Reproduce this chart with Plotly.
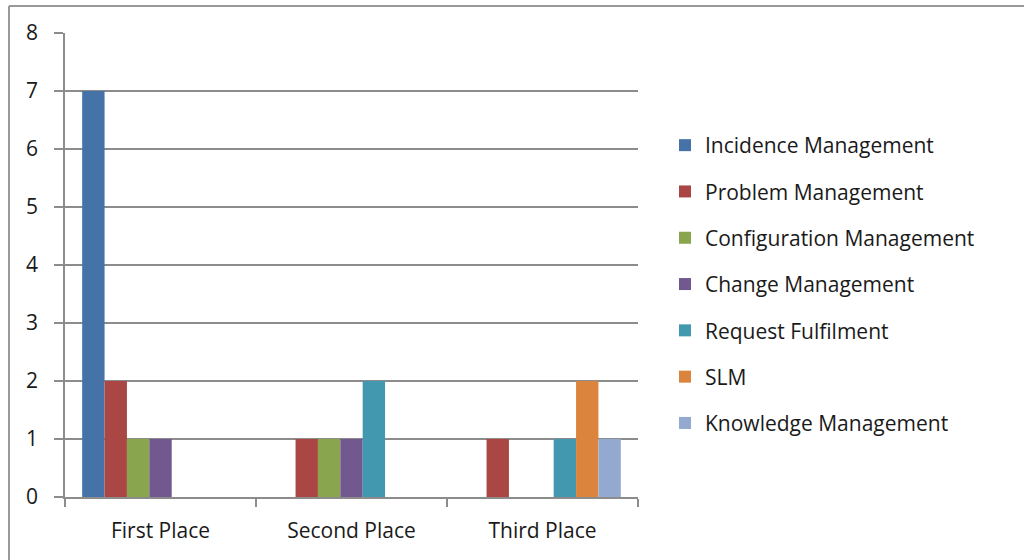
import plotly.graph_objects as go

categories = ["First Place", "Second Place", "Third Place"]
series_names = ["Incidence Management", "Problem Management", "Configuration Management",
                "Change Management", "Request Fulfilment", "SLM", "Knowledge Management"]
incidence = [7, 0, 0]
problem = [2, 1, 1]
configuration = [1, 1, 0]
change = [1, 1, 0]
request = [0, 2, 1]
slm = [0, 0, 2]
knowledge = [0, 0, 1]
series_values = [incidence, problem, configuration, change, request, slm, knowledge]
colors = ["#4572A7", "#AA4643", "#89A54E", "#71588F", "#4198AF", "#DB843D", "#93A9CF"]
y_ticks = [0, 1, 2, 3, 4, 5, 6, 7, 8]

FONT = "Open Sans"
FS = 21
TXT = "#1a1a1a"
GRID = "#8c8c8c"

fig = go.Figure()
for name, vals, col in zip(series_names, series_values, colors):
    fig.add_trace(go.Bar(name=name, x=categories, y=vals, marker_color=col,
                         marker_line_width=0, legendgroup=name))

L, R, T, B = 65, 638, 33, 497
W, H = 1024, 560
pw, ph = R - L, B - T

def px_x(p):
    return (p - L) / pw

def px_y(p):
    return (B - p) / ph

fig.update_layout(
    width=W, height=H,
    margin=dict(l=L, r=W - R, t=T, b=H - B, pad=0),
    paper_bgcolor="white", plot_bgcolor="white",
    barmode="group", bargap=0.18, bargroupgap=0,
    font=dict(family=FONT, size=FS, color=TXT),
    showlegend=True,
    legend=dict(x=px_x(665), xanchor="left", y=px_y(125), yanchor="top",
                traceorder="grouped", tracegroupgap=16,
                font=dict(family=FONT, size=FS, color=TXT),
                bgcolor="rgba(0,0,0,0)"),
    xaxis=dict(type="category", range=[-0.5, 2.5], showgrid=False,
               showline=True, linecolor=GRID, linewidth=1.5,
               ticks="outside", tickson="boundaries", ticklen=8, tickcolor=GRID, tickwidth=1.5,
               ticklabelstandoff=14, tickfont=dict(family=FONT, size=FS, color=TXT),
               fixedrange=True),
    yaxis=dict(range=[0, 8], tickvals=y_ticks, showgrid=True, gridcolor=GRID, gridwidth=1.5,
               showline=True, linecolor=GRID, linewidth=1.5, zeroline=False,
               ticks="outside", ticklen=9, tickcolor=GRID, tickwidth=1.5,
               ticklabelstandoff=12, tickfont=dict(family=FONT, size=FS, color=TXT),
               fixedrange=True),
    shapes=[
        dict(type="line", xref="paper", yref="paper", x0=px_x(9), x1=px_x(1030),
             y0=px_y(6), y1=px_y(6), line=dict(color="#999999", width=2)),
        dict(type="line", xref="paper", yref="paper", x0=px_x(9), x1=px_x(9),
             y0=px_y(6), y1=px_y(570), line=dict(color="#999999", width=2)),
    ],
)

fig.write_html("out.html")
